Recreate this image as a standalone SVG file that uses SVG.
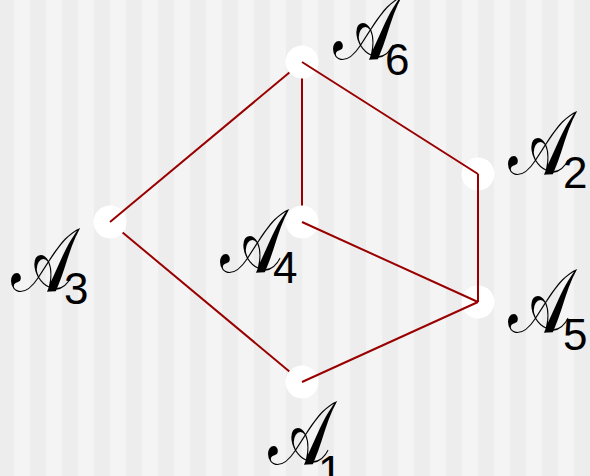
<svg xmlns="http://www.w3.org/2000/svg" width="590" height="476" viewBox="0 0 590 476">
<defs>
<pattern id="stripes" x="14" y="0" width="32" height="476" patternUnits="userSpaceOnUse">
<rect x="0" y="0" width="16" height="476" fill="#f4f4f4"/>
<rect x="16" y="0" width="16" height="476" fill="#ededed"/>
</pattern>
<style>
.edge{stroke:#990000;stroke-width:2;fill:none}
.node{fill:#ffffff}
.cal{font-family:"DejaVu Serif","Liberation Serif",serif;font-size:58px;fill:#000}
.sub{font-family:"Liberation Sans",Arial,sans-serif;font-size:44px;fill:#000}
</style>
</defs>
<rect width="590" height="476" fill="url(#stripes)"/>
<g id="connectors-under">
<line class="edge" x1="110" y1="222" x2="302" y2="382"/>
<line class="edge" x1="302" y1="62" x2="302" y2="222"/>
</g>
<g id="A1"><circle class="node" cx="302" cy="382" r="16.5"/></g>
<g id="A2"><circle class="node" cx="478" cy="174" r="16.5"/></g>
<g id="A3"><circle class="node" cx="110" cy="222" r="16.5"/></g>
<g id="A4"><circle class="node" cx="302" cy="222" r="16.5"/></g>
<g id="A5"><circle class="node" cx="478" cy="302" r="16.5"/></g>
<g id="connectors-mid">
<line class="edge" x1="110" y1="222" x2="302" y2="62"/>
</g>
<g id="A6"><circle class="node" cx="302" cy="62" r="16.5"/></g>
<g id="connectors">
<line class="edge" x1="302" y1="62" x2="478" y2="174"/>
<line class="edge" x1="302" y1="382" x2="478" y2="302"/>
<line class="edge" x1="302" y1="222" x2="478" y2="302"/>
<line class="edge" x1="478" y1="174" x2="478" y2="302"/>
</g>
<g id="labels">
<text class="cal" transform="translate(333,59) scale(1.15,1.55)">𝒜</text><text class="sub" x="385" y="75">6</text>
<text class="cal" transform="translate(508,174) scale(1.15,1.55)">𝒜</text><text class="sub" x="563" y="188">2</text>
<text class="cal" transform="translate(11,291) scale(1.15,1.55)">𝒜</text><text class="sub" x="64" y="304">3</text>
<text class="cal" transform="translate(220,272) scale(1.15,1.55)">𝒜</text><text class="sub" x="273" y="283">4</text>
<text class="cal" transform="translate(508,332) scale(1.15,1.55)">𝒜</text><text class="sub" x="563" y="350">5</text>
<text class="cal" transform="translate(268,464) scale(1.15,1.55)">𝒜</text><text class="sub" x="318" y="487">1</text>
</g>
</svg>
